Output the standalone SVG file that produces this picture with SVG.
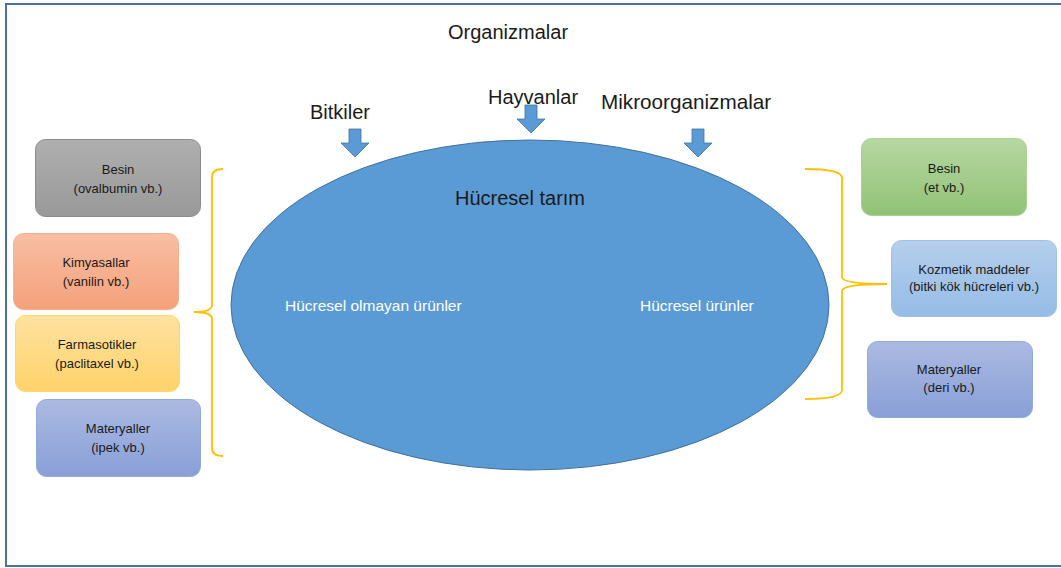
<svg xmlns="http://www.w3.org/2000/svg" width="1061" height="568" viewBox="0 0 1061 568">
<style>
.t{font-family:"Liberation Sans",Arial,sans-serif;fill:#1a1a1a;}
.h{font-size:20px;}
.b{font-size:13px;text-anchor:middle;}
.w{font-family:"Liberation Sans",Arial,sans-serif;fill:#ffffff;font-size:15.5px;}
.arr{fill:#5b9bd5;stroke:#41719c;stroke-width:0.8;}
.br{fill:none;stroke:#ffc000;stroke-width:1.8;}
</style>
<defs>
<linearGradient id="gGray" x1="0" y1="0" x2="0" y2="1"><stop offset="0" stop-color="#afafaf"/><stop offset="1" stop-color="#999999"/></linearGradient>
<linearGradient id="gOrange" x1="0" y1="0" x2="0" y2="1"><stop offset="0" stop-color="#f9bea3"/><stop offset="1" stop-color="#f4a17b"/></linearGradient>
<linearGradient id="gYellow" x1="0" y1="0" x2="0" y2="1"><stop offset="0" stop-color="#ffe2a1"/><stop offset="1" stop-color="#ffd369"/></linearGradient>
<linearGradient id="gBlue" x1="0" y1="0" x2="0" y2="1"><stop offset="0" stop-color="#abbae2"/><stop offset="1" stop-color="#889fd7"/></linearGradient>
<linearGradient id="gLBlue" x1="0" y1="0" x2="0" y2="1"><stop offset="0" stop-color="#b5cfec"/><stop offset="1" stop-color="#95bce6"/></linearGradient>
<linearGradient id="gGreen" x1="0" y1="0" x2="0" y2="1"><stop offset="0" stop-color="#b6d7a2"/><stop offset="1" stop-color="#91c276"/></linearGradient>
</defs>
<rect x="0" y="0" width="1061" height="568" fill="#ffffff"/>
<rect x="6" y="4" width="1062" height="562" fill="#ffffff" stroke="#4d729b" stroke-width="2"/>

<g id="title"><text class="t h" x="448" y="39">Organizmalar</text></g>

<g id="ellipse">
<ellipse cx="530" cy="305" rx="299" ry="165" fill="#5b9bd5" stroke="#41719c" stroke-width="1"/>
<text class="t h" x="455" y="205">Hücresel tarım</text>
<text class="w" x="285" y="311">Hücresel olmayan ürünler</text>
<text class="w" x="640" y="311">Hücresel ürünler</text>
</g>

<g id="bitkiler">
<text class="t h" x="310" y="119">Bitkiler</text>
<path class="arr" d="M349,129 H361 V143 H369 L355,157 L341,143 H349 Z"/>
</g>
<g id="hayvanlar">
<text class="t h" x="488" y="104">Hayvanlar</text>
<path class="arr" d="M525,105 H537 V119 H545 L531,133 L517,119 H525 Z"/>
</g>
<g id="mikroorganizmalar">
<text class="t h" x="601" y="109" style="font-size:20.7px">Mikroorganizmalar</text>
<path class="arr" d="M692,129 H704 V143 H712 L698,157 L684,143 H692 Z"/>
</g>

<g id="connectors">
<path class="br" d="M223,169 Q212,169 212,177 V305 Q212,312 194,312 Q212,312 212,319 V448 Q212,456 223,456"/>
<path class="br" d="M805,169 Q842,169 842,178 V277 Q842,284 887,284 Q842,284 842,291 V390 Q842,399 805,399"/>
</g>

<g id="l-besin">
<rect x="35.5" y="139.5" width="165" height="77" rx="10" fill="url(#gGray)" stroke="#8c8c8c"/>
<text class="t b" x="118" y="174">Besin</text>
<text class="t b" x="118" y="193">(ovalbumin vb.)</text>
</g>
<g id="l-kimyasallar">
<rect x="13.5" y="233.5" width="165" height="76" rx="10" fill="url(#gOrange)" stroke="#f4b08f"/>
<text class="t b" x="96" y="267">Kimyasallar</text>
<text class="t b" x="96" y="286">(vanilin vb.)</text>
</g>
<g id="l-farmasotikler">
<rect x="15.5" y="315.5" width="164" height="76" rx="10" fill="url(#gYellow)" stroke="#ffd766"/>
<text class="t b" x="97" y="349">Farmasotikler</text>
<text class="t b" x="97" y="368">(paclitaxel vb.)</text>
</g>
<g id="l-materyaller">
<rect x="36.5" y="399.5" width="164" height="77" rx="10" fill="url(#gBlue)" stroke="#8faadc"/>
<text class="t b" x="118" y="433">Materyaller</text>
<text class="t b" x="118" y="452">(ipek vb.)</text>
</g>

<g id="r-besin">
<rect x="861.5" y="138.5" width="165" height="77" rx="10" fill="url(#gGreen)" stroke="#a9d18e"/>
<text class="t b" x="944" y="173">Besin</text>
<text class="t b" x="944" y="192">(et vb.)</text>
</g>
<g id="r-kozmetik">
<rect x="891.5" y="240.5" width="165" height="76" rx="10" fill="url(#gLBlue)" stroke="#9dc3e6"/>
<text class="t b" x="974" y="274">Kozmetik maddeler</text>
<text class="t b" x="974" y="291">(bitki kök hücreleri vb.)</text>
</g>
<g id="r-materyaller">
<rect x="867.5" y="341.5" width="165" height="76" rx="10" fill="url(#gBlue)" stroke="#8faadc"/>
<text class="t b" x="949" y="374">Materyaller</text>
<text class="t b" x="949" y="392">(deri vb.)</text>
</g>
</svg>
